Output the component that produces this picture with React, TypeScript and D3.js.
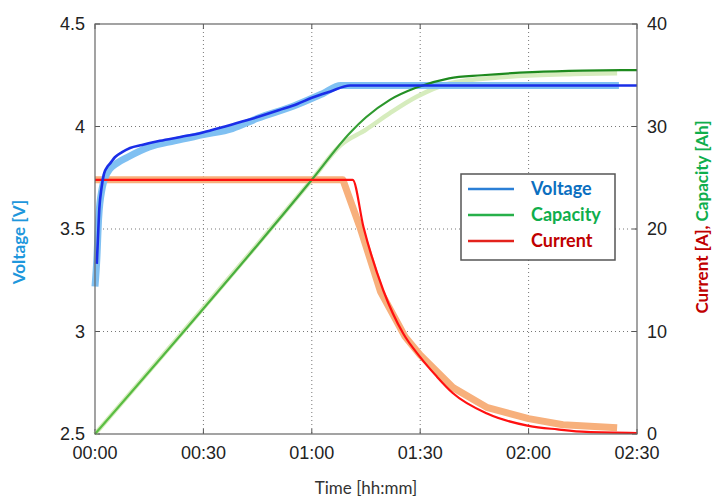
import React, { useEffect, useRef } from 'react';
import * as d3 from 'd3';

// time in minutes
const voltTime = [0.5, 0.8, 1.2, 1.8, 2.5, 3.3, 4.2, 5.5, 7.5, 9.7, 13, 18, 24, 29.6, 36, 42, 51, 56, 60, 65, 70.6, 150];
const voltMeas = [3.33, 3.45, 3.6, 3.7, 3.77, 3.8, 3.82, 3.85, 3.875, 3.895, 3.91, 3.93, 3.95, 3.97, 4.0, 4.03, 4.08, 4.11, 4.14, 4.17, 4.2, 4.2];
const voltSimTime = [0, 0.5, 1, 2, 3, 4, 6, 9, 15, 22, 30, 38, 45, 55, 63, 68, 145];
const voltSim = [3.22, 3.35, 3.55, 3.7, 3.76, 3.79, 3.82, 3.85, 3.9, 3.93, 3.96, 3.99, 4.04, 4.1, 4.16, 4.2, 4.2];

const capTime = [0, 60, 70.6, 75, 81.6, 89, 98, 107, 121, 135, 150];
const capMeas = [0, 24.8, 29.4, 30.9, 32.6, 33.8, 34.7, 35.0, 35.3, 35.45, 35.5];
const capSimTime = [0, 60, 68, 75, 81.6, 89, 98, 112, 130, 144.5];
const capSim = [0, 24.8, 28.2, 29.7, 31.3, 32.9, 34.2, 34.8, 35.1, 35.2];

const curTime = [0, 71.3, 74.3, 79.8, 85.3, 90, 94.6, 99, 108.5, 120, 128, 136, 150];
const curMeas = [24.8, 24.8, 20.2, 14.0, 9.8, 7.5, 5.6, 4.0, 2.0, 0.8, 0.45, 0.2, 0.1];
const curSimTime = [0, 68.6, 73.3, 79, 85.8, 90, 99.2, 108.4, 120, 129.5, 144.5];
const curSim = [24.8, 24.8, 20.2, 13.9, 9.5, 7.7, 4.5, 2.6, 1.5, 0.9, 0.6];

const xTicks = [0, 30, 60, 90, 120, 150];
const xTickLabels = ['00:00', '00:30', '01:00', '01:30', '02:00', '02:30'];
const leftTicks = [2.5, 3, 3.5, 4, 4.5];
const rightTicks = [0, 10, 20, 30, 40];
const legendNames = ['Voltage', 'Capacity', 'Current'];
const legendLineColors = ['#2b7fd6', '#27b04a', '#e3221c'];
const legendTextColors = ['#0b6fc0', '#0fae4c', '#c00000'];

const W = 712;
const H = 500;
const margin = { top: 24, right: 75, bottom: 66, left: 95 };

const App = () => {
    const node = useRef<SVGSVGElement>(null);

    useEffect(() => {
        const svg = d3.select(node.current);
        svg.selectAll('*').remove();

        const x = d3.scaleLinear().domain([0, 150]).range([margin.left, W - margin.right]);
        const yL = d3.scaleLinear().domain([2.5, 4.5]).range([H - margin.bottom, margin.top]);
        const yR = d3.scaleLinear().domain([0, 40]).range([H - margin.bottom, margin.top]);
        const x0 = margin.left, x1 = W - margin.right, y0 = H - margin.bottom, y1 = margin.top;

        const tickFont = 'Liberation Sans, Arial, sans-serif';
        const labFont = 'Lato, Open Sans, sans-serif';

        // grid
        const grid = svg.append('g');
        xTicks.slice(1, -1).forEach((t) => {
            grid.append('line').attr('x1', x(t)).attr('x2', x(t)).attr('y1', y1).attr('y2', y0)
                .attr('stroke', '#777').attr('stroke-width', 1).attr('stroke-dasharray', '1,3');
        });
        leftTicks.slice(1, -1).forEach((v) => {
            grid.append('line').attr('x1', x0).attr('x2', x1).attr('y1', yL(v)).attr('y2', yL(v))
                .attr('stroke', '#777').attr('stroke-width', 1).attr('stroke-dasharray', '1,3');
        });

        // frame ticks
        xTicks.forEach((t) => {
            grid.append('line').attr('x1', x(t)).attr('x2', x(t)).attr('y1', y0).attr('y2', y0 - 5).attr('stroke', '#555');
            grid.append('line').attr('x1', x(t)).attr('x2', x(t)).attr('y1', y1).attr('y2', y1 + 5).attr('stroke', '#555');
        });
        leftTicks.forEach((v) => {
            grid.append('line').attr('x1', x0).attr('x2', x0 + 5).attr('y1', yL(v)).attr('y2', yL(v)).attr('stroke', '#555');
        });
        rightTicks.forEach((v) => {
            grid.append('line').attr('x1', x1).attr('x2', x1 - 5).attr('y1', yR(v)).attr('y2', yR(v)).attr('stroke', '#555');
        });

        const lineOf = (ts: number[], vs: number[], ys: d3.ScaleLinear<number, number>) =>
            d3.line<number>().x((_, i) => x(ts[i])).y((v) => ys(v)).curve(d3.curveLinear)(vs);
        const smoothOf = (ts: number[], vs: number[], ys: d3.ScaleLinear<number, number>) =>
            d3.line<number>().x((_, i) => x(ts[i])).y((v) => ys(v)).curve(d3.curveMonotoneX)(vs);

        const plot = svg.append('g');
        // simulated (thick, light)
        plot.append('path').attr('d', smoothOf(capSimTime, capSim, yR)).attr('fill', 'none')
            .attr('stroke', '#d6ecbd').attr('stroke-width', 4.5).attr('stroke-linejoin', 'round');
        plot.append('path').attr('d', lineOf(curSimTime, curSim, yR)).attr('fill', 'none')
            .attr('stroke', '#f7b07c').attr('stroke-width', 7).attr('stroke-linejoin', 'round');
        plot.append('path').attr('d', smoothOf(voltSimTime, voltSim, yL)).attr('fill', 'none')
            .attr('stroke', '#7fc0f2').attr('stroke-width', 7).attr('stroke-linejoin', 'round');

        // measured
        const capGrad = svg.append('defs').append('linearGradient').attr('id', 'capg')
            .attr('gradientUnits', 'userSpaceOnUse').attr('x1', x0).attr('x2', x1).attr('y1', 0).attr('y2', 0);
        capGrad.append('stop').attr('offset', '0%').attr('stop-color', '#5cc043');
        capGrad.append('stop').attr('offset', '45%').attr('stop-color', '#3aa43a');
        capGrad.append('stop').attr('offset', '60%').attr('stop-color', '#1e8a1e');
        capGrad.append('stop').attr('offset', '100%').attr('stop-color', '#1e8a1e');
        plot.append('path').attr('d', smoothOf(capTime, capMeas, yR)).attr('fill', 'none')
            .attr('stroke', 'url(#capg)').attr('stroke-width', 2.2);
        plot.append('path').attr('d', smoothOf(curTime, curMeas, yR)).attr('fill', 'none')
            .attr('stroke', '#ff1010').attr('stroke-width', 2.2);
        plot.append('path').attr('d', smoothOf(voltTime, voltMeas, yL)).attr('fill', 'none')
            .attr('stroke', '#1a2ee8').attr('stroke-width', 2.6);

        // frame
        svg.append('rect').attr('x', x0).attr('y', y1).attr('width', x1 - x0).attr('height', y0 - y1)
            .attr('fill', 'none').attr('stroke', '#666').attr('stroke-width', 1.2);

        // tick labels
        leftTicks.forEach((v) => {
            svg.append('text').attr('x', 85).attr('y', yL(v)).attr('dy', '0.35em').attr('text-anchor', 'end')
                .attr('font-family', tickFont).attr('font-size', 18).attr('fill', '#222').text(v);
        });
        rightTicks.forEach((v) => {
            svg.append('text').attr('x', x1 + 10).attr('y', yR(v)).attr('dy', '0.35em').attr('text-anchor', 'start')
                .attr('font-family', tickFont).attr('font-size', 18).attr('fill', '#222').text(v);
        });
        xTicks.forEach((t, i) => {
            svg.append('text').attr('x', x(t)).attr('y', y0 + 25).attr('text-anchor', 'middle')
                .attr('font-family', tickFont).attr('font-size', 18).attr('fill', '#222').text(xTickLabels[i]);
        });

        // axis titles
        svg.append('text').attr('x', (x0 + x1) / 2).attr('y', 494).attr('text-anchor', 'middle')
            .attr('font-family', labFont).attr('font-size', 17).attr('fill', '#333').text('Time [hh:mm]');
        svg.append('text').attr('transform', 'translate(25,242) rotate(-90)').attr('text-anchor', 'middle')
            .attr('font-family', labFont).attr('font-weight', 'bold').attr('font-size', 17).attr('fill', '#1e97dc')
            .text('Voltage [V]');
        const rt = svg.append('text').attr('transform', 'translate(708,217) rotate(-90)').attr('text-anchor', 'middle')
            .attr('font-family', labFont).attr('font-weight', 'bold').attr('font-size', 17);
        rt.append('tspan').attr('fill', '#c00000').text('Current [A], ');
        rt.append('tspan').attr('fill', '#0fae4c').text('Capacity [Ah]');

        // legend
        const lg = svg.append('g');
        lg.append('rect').attr('x', 461).attr('y', 174).attr('width', 154).attr('height', 86)
            .attr('fill', 'white').attr('stroke', '#555').attr('stroke-width', 1.5);
        legendNames.forEach((n, i) => {
            const ly = 189 + i * 26;
            lg.append('line').attr('x1', 468).attr('x2', 514).attr('y1', ly).attr('y2', ly)
                .attr('stroke', legendLineColors[i]).attr('stroke-width', 2.5);
            lg.append('text').attr('x', 531).attr('y', ly).attr('dy', '0.35em')
                .attr('font-family', labFont).attr('font-weight', 'bold').attr('font-size', 18)
                .attr('fill', legendTextColors[i]).text(n);
        });
    }, []);

    return (
        <svg ref={node} width={W} height={H} style={{ position: 'absolute', left: 0, top: 0, background: 'white' }} />
    );
};

export default App;
